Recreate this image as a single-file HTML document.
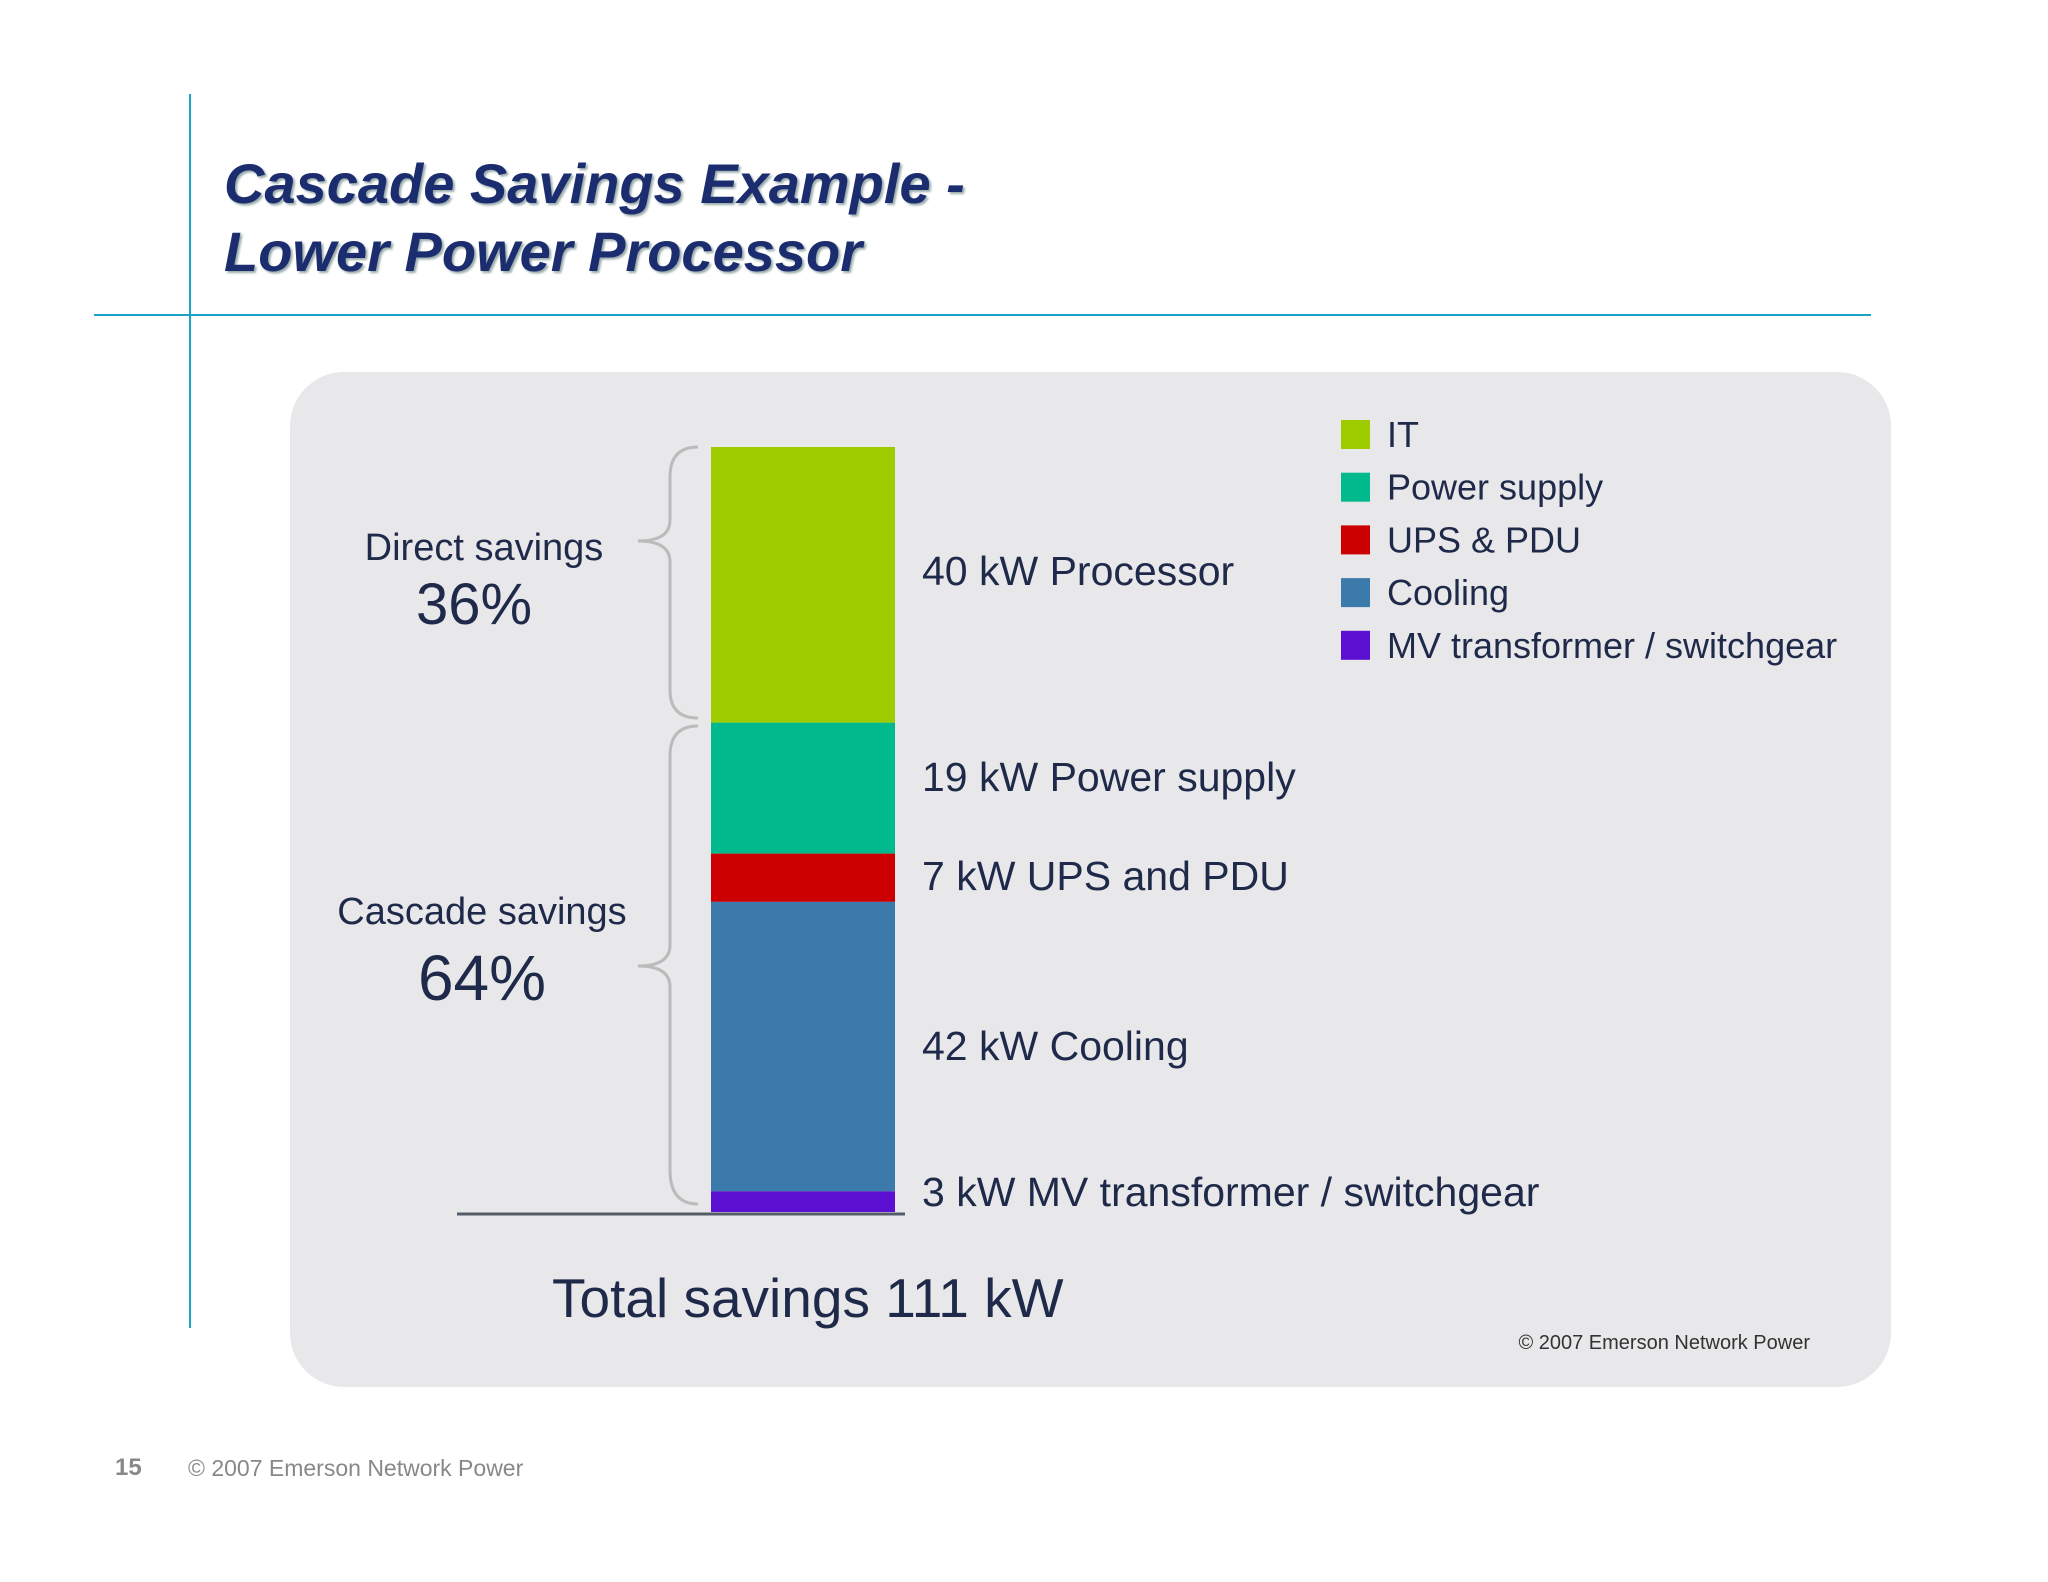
<!DOCTYPE html>
<html><head><meta charset="utf-8"><style>
body{margin:0;width:2048px;height:1582px;background:#fff;position:relative;overflow:hidden;font-family:"Liberation Sans",sans-serif}
.a{position:absolute;white-space:nowrap}
</style></head><body>
<div class="a" style="left:189px;top:94px;width:2px;height:1234px;background:#1aa3c4"></div>
<div class="a" style="left:94px;top:314px;width:1777px;height:2px;background:#1aa3c4"></div>
<div class="a" style="left:224px;top:150px;font-size:56px;line-height:68px;font-weight:bold;font-style:italic;color:#1b2d6e;text-shadow:2px 2px 2px #9aa">Cascade Savings Example -<br>Lower Power Processor</div>
<svg class="a" style="left:0;top:0" width="2048" height="1582">
<rect x="290" y="372" width="1601" height="1015" rx="54" fill="#e8e8ea"/>
<g id="bars"></g>
<line x1="457" y1="1214" x2="905" y2="1214" stroke="#555c68" stroke-width="3"/>
<path d="M698 447 Q670 447 670 477 L670 520 Q670 541 638 541 Q670 541 670 562 L670 690 Q670 718 698 718" fill="none" stroke="#bbb" stroke-width="3"/>
<path d="M698 726 Q670 726 670 756 L670 945 Q670 966 638 966 Q670 966 670 987 L670 1170 Q670 1204 698 1204" fill="none" stroke="#bbb" stroke-width="3"/>
<g font-family="Liberation Sans, sans-serif" fill="#1f2a4a">
<text x="484" y="560" font-size="38" text-anchor="middle">Direct savings</text>
<text x="474" y="624" font-size="58" text-anchor="middle">36%</text>
<text x="482" y="924" font-size="38" text-anchor="middle">Cascade savings</text>
<text x="482" y="1000" font-size="64" text-anchor="middle">64%</text>
<text x="552" y="1317" font-size="55">Total savings 111 kW</text>
<text x="1810" y="1349" font-size="20" text-anchor="end" fill="#333">© 2007 Emerson Network Power</text>
</g>
<g id="labels" font-family="Liberation Sans, sans-serif" fill="#1f2a4a" font-size="41"></g>
<g id="legend" font-family="Liberation Sans, sans-serif" fill="#1f2a4a" font-size="36"></g>
</svg>
<div class="a" style="left:115px;top:1454px;font-size:24px;font-weight:bold;color:#888">15</div>
<div class="a" style="left:188px;top:1455px;font-size:23px;color:#888">© 2007 Emerson Network Power</div>
<script>
const categories=["IT","Power supply","UPS & PDU","Cooling","MV transformer / switchgear"];
const values=[40,19,7,42,3];
const barLabels=["40 kW Processor","19 kW Power supply","7 kW UPS and PDU","42 kW Cooling","3 kW MV transformer / switchgear"];
const colors=["#9ecb00","#00b98c","#cc0000","#3d7aac","#5b0fd0"];
const NS="http://www.w3.org/2000/svg";
const total=values.reduce((a,b)=>a+b,0);
const yTop=447,yBot=1212,bx=711,bw=184;
const y=v=>yBot-(yBot-yTop)*v/total;
let cum=total;
const bars=document.getElementById('bars'),labels=document.getElementById('labels'),legend=document.getElementById('legend');
values.forEach((v,i)=>{
 const r=document.createElementNS(NS,'rect');
 
 
 r.setAttribute('x',bx);r.setAttribute('width',bw);
 r.setAttribute('y',y(cum));r.setAttribute('height',y(cum-v)-y(cum));
 r.setAttribute('fill',colors[i]);bars.appendChild(r);
 const t=document.createElementNS(NS,'text');
 
 
 t.setAttribute('x',922);
 let mid=(y(cum)+y(cum-v))/2+14;
 if(i===0) mid=585;
 if(i===1) mid=791;
 if(i===2) mid=890;
 if(i===3) mid=1060;
 if(i===4) mid=1206;
 t.setAttribute('y',mid);t.textContent=barLabels[i];labels.appendChild(t);
 cum-=v;
 const s=document.createElementNS(NS,'rect');
 
 
 s.setAttribute('x',1341);s.setAttribute('y',420+i*52.7);s.setAttribute('width',29);s.setAttribute('height',29);
 s.setAttribute('fill',colors[i]);legend.appendChild(s);
 const lt=document.createElementNS(NS,'text');
 
 
 lt.setAttribute('x',1387);lt.setAttribute('y',447+i*52.7);lt.textContent=categories[i];legend.appendChild(lt);
});
</script>
</body></html>
